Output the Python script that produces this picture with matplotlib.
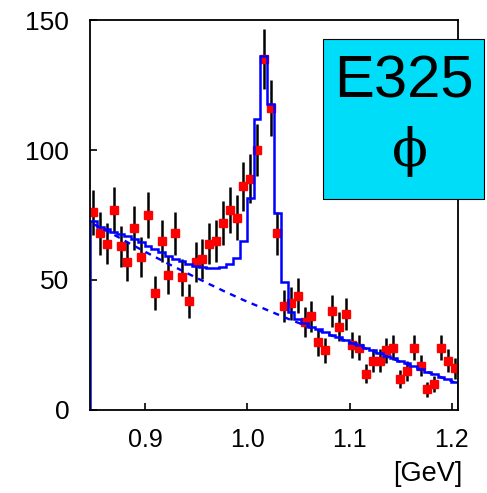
import numpy as np
import matplotlib
matplotlib.use("Agg")
import matplotlib.pyplot as plt
from matplotlib.patches import Rectangle

plt.rcParams['font.family'] = ['Liberation Sans', 'DejaVu Sans']

# binning of the mass histogram (GeV)
mass_lo = 0.846
mass_hi = 1.206
n_bins = 54

# data counts per bin
counts = [76, 68, 64, 77, 63, 57, 70, 59, 75, 45,
          65, 52, 68, 51, 42, 57, 58, 64, 65, 72,
          77, 74, 86, 89, 100, 135, 116, 68, 40, 41,
          44, 34, 36, 26, 23, 38, 32, 37, 25, 24,
          14, 19, 19, 23, 24, 12, 15, 24, 17, 8,
          10, 24, 19, 16]
errors = [8.7, 8.3, 8.0, 8.8, 7.9, 7.5, 8.4, 7.7, 8.7, 6.7,
          8.1, 7.2, 8.3, 7.2, 6.5, 7.6, 7.6, 8.0, 8.0, 8.5,
          8.8, 8.6, 9.3, 9.4, 10.0, 11.6, 10.8, 8.3, 6.3, 6.4,
          6.6, 5.8, 6.0, 5.1, 4.8, 6.1, 5.6, 6.1, 5.0, 4.9,
          3.7, 4.3, 4.3, 4.8, 4.9, 3.4, 3.9, 4.9, 4.1, 2.9,
          3.1, 4.9, 4.3, 4.0]

# total fit (histogram style)
fit_total = [72.5, 70.5, 69.5, 68.6, 67.5, 66.8, 65.8, 64.6, 63.2, 62.0,
             60.8, 59.3, 58.2, 57.2, 56.2, 55.4, 54.9, 54.6, 54.6, 55.0,
             56.0, 58.5, 65.0, 81.7, 112.0, 136.0, 117.6, 75.9, 49.3, 37.5,
             35.0, 33.4, 32.1, 31.0, 29.9, 28.9, 27.9, 26.9, 25.9, 24.9,
             23.9, 22.9, 21.9, 20.9, 19.9, 18.9, 17.9, 16.9, 15.9, 14.8,
             13.8, 12.8, 11.8, 10.8]

# background component (dashed)
fit_bkg = [71.5, 70.2, 68.8, 67.4, 66.0, 64.5, 63.1, 61.7, 60.3, 58.9,
           57.6, 56.2, 54.9, 53.6, 52.3, 51.0, 49.7, 48.4, 47.2, 45.9,
           44.7, 43.5, 42.3, 41.2, 40.1, 39.0, 37.9, 36.8, 35.7, 34.6,
           33.6, 32.6, 31.6, 30.6, 29.6, 28.6, 27.6, 26.6, 25.6, 24.6,
           23.6, 22.6, 21.6, 20.6, 19.6, 18.6, 17.6, 16.6, 15.6, 14.6,
           13.6, 12.6, 11.6, 10.6]

xticks = [0.9, 1.0, 1.1, 1.2]
xticklabels = ["0.9", "1.0", "1.1", "1.2"]
yticks = [0, 50, 100, 150]

edges = np.linspace(mass_lo, mass_hi, n_bins + 1)
centers = 0.5 * (edges[:-1] + edges[1:])

fig = plt.figure(figsize=(4.87, 4.93), dpi=100)
ax = fig.add_axes([0.1848, 0.1684, 0.7557, 0.791])

ax.errorbar(centers, counts, yerr=errors, fmt='s', color='red', ms=5.8,
            mec='red', ecolor='black', elinewidth=1.8, capsize=0, zorder=2)
ax.plot(centers, fit_bkg, color='blue', lw=1.7, ls=(0, (2.6, 2.4)), zorder=3)
ax.stairs(fit_total, edges, baseline=0, color='blue', lw=1.8, zorder=4)

ax.set_xlim(mass_lo, mass_hi)
ax.set_ylim(0, 150)
ax.set_xticks(xticks)
ax.set_xticklabels(xticklabels)
ax.set_yticks(yticks)
ax.tick_params(direction='in', length=5, width=1.2, colors='black')
ax.tick_params(axis='x', labelsize=18, pad=13)
ax.tick_params(axis='y', labelsize=19, pad=15)
for s in ax.spines.values():
    s.set_linewidth(1.3)
    s.set_zorder(5)

fig.text(0.9487, 0.0385, "[GeV]", ha='right', va='center', fontsize=19.5)

fig.patches.append(Rectangle((0.6626, 0.5963), 0.3312, 0.3245,
                             transform=fig.transFigure, facecolor='#00ddf8',
                             edgecolor='black', lw=0.8, zorder=10))
fig.text(0.8296, 0.8327, "E325", ha='center', va='center', fontsize=43, zorder=11)
fig.text(0.842, 0.6917, "\u03d5", ha='center', va='center', fontsize=38,
         family='DejaVu Serif', zorder=11)

fig.savefig("out.png", dpi=100)
